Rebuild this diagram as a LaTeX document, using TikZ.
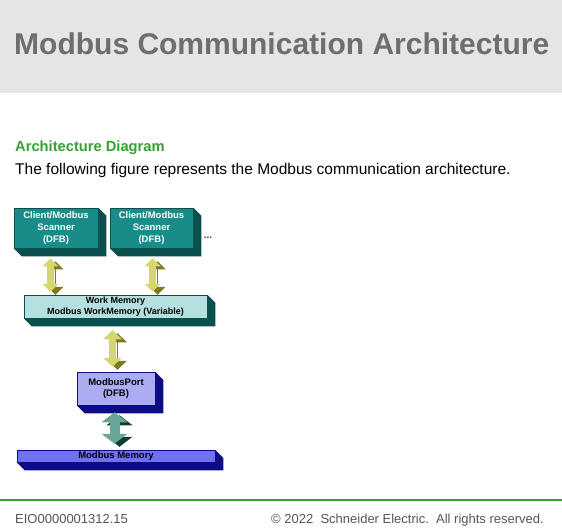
\documentclass[tikz,border=0pt]{standalone}
\usepackage{fontspec}
\setmainfont{Liberation Sans}
\usetikzlibrary{arrows.meta}
\definecolor{headgray}{RGB}{229,229,229}
\definecolor{titlegray}{RGB}{110,110,110}
\definecolor{segreen}{RGB}{52,160,48}
\definecolor{footgray}{RGB}{85,85,85}
\definecolor{tealF}{RGB}{24,140,136}
\definecolor{tealS}{RGB}{10,80,78}
\definecolor{cyanF}{RGB}{180,224,224}
\definecolor{lavF}{RGB}{172,172,242}
\definecolor{navyS}{RGB}{12,12,135}
\definecolor{blueF}{RGB}{112,112,240}
\definecolor{yelF}{RGB}{214,214,112}
\definecolor{yelS}{RGB}{122,122,32}
\definecolor{grnF}{RGB}{104,166,156}
\definecolor{grnS}{RGB}{16,60,50}
\tikzset{blk/.style 2 args={rectangle,fill=#1,draw=#2,line width=0.5pt,inner sep=0pt,align=center,font=\bfseries\fontsize{9.5}{12}\selectfont}}
\tikzset{dbl/.style 2 args={draw=#1,line width=7pt,arrows={Triangle[width=16pt,length=8pt,line width=0pt]-Triangle[width=16pt,length=8pt,line width=0pt]},preaction={draw=#2,transform canvas={shift={(5pt,-3pt)}}}}}
\newcommand{\extrude}[2]{\fill[#2] (#1.north east) -- ++(8pt,-8pt) |- ([shift={(8pt,-8pt)}]#1.south west) -- (#1.south west) -- (#1.south east) -- cycle;}

\begin{document}
\begin{tikzpicture}[x=1pt,y=-1pt]
    \useasboundingbox (0,0) rectangle (562,532);
    \fill[headgray] (0,0) rectangle (562,93);
    \node[anchor=base west,inner sep=0pt,text=titlegray,font=\bfseries\fontsize{30}{36}\selectfont] (title) at (14,55) {Modbus Communication Architecture};
    \node[anchor=base west,inner sep=0pt,text=segreen,font=\bfseries\fontsize{14.7}{18}\selectfont] (head) at (15,151) {Architecture Diagram};
    \node[anchor=base west,inner sep=0pt,font=\fontsize{15.5}{18}\selectfont] (intro) at (15,174) {The following figure represents the Modbus communication architecture.};

    \node[blk={tealF}{tealS},text=white,minimum width=84pt,minimum height=40pt] (c1) at (56,228) {Client/Modbus\\Scanner\\(DFB)};
    \node[blk={tealF}{tealS},text=white,minimum width=83pt,minimum height=40pt] (c2) at (151.5,228) {Client/Modbus\\Scanner\\(DFB)};
    \node[inner sep=0pt,text=black!75,font=\bfseries\fontsize{10}{10}\selectfont] (more) at (208,238) {...};
    \node[blk={cyanF}{tealS},font=\bfseries\fontsize{9}{10.5}\selectfont,minimum width=183pt,minimum height=23pt] (wm) at (115.5,306.5) {Work Memory\\Modbus WorkMemory (Variable)};
    \node[blk={lavF}{navyS},font=\bfseries\fontsize{9.5}{11}\selectfont,minimum width=78pt,minimum height=33pt] (mp) at (116,388.5) {ModbusPort\\(DFB)};
    \node[blk={blueF}{navyS},minimum width=198pt,minimum height=12pt] (mm) at (116,456) {Modbus Memory};
    \extrude{c1}{tealS}
    \extrude{c2}{tealS}
    \extrude{wm}{tealS}
    \extrude{mp}{navyS}
    \extrude{mm}{navyS}

    \draw[dbl={yelF}{yelS}] ([xshift=-5.5pt,yshift=-10pt]c1.south) -- ([xshift=-65pt,yshift=3pt]wm.north);
    \draw[dbl={yelF}{yelS}] ([xshift=1pt,yshift=-10pt]c2.south) -- ([xshift=37pt,yshift=3pt]wm.north);
    \draw[dbl={yelF}{yelS},arrows={Triangle[width=19pt,length=9pt,line width=0pt]-Triangle[width=19pt,length=9pt,line width=0pt]}] ([xshift=-3pt,yshift=-12pt]wm.south) -- ([xshift=-3.5pt,yshift=5pt]mp.north);
    \draw[dbl={grnF}{grnS},line width=10pt,arrows={Triangle[width=26pt,length=10pt,line width=0pt]-Triangle[width=26pt,length=10pt,line width=0pt]}] ([xshift=-1.5pt,yshift=-7pt]mp.south) -- ([xshift=-1.5pt,yshift=6pt]mm.north);

    \draw[segreen,line width=1.2pt] (0,500) -- (562,500);
    \node[anchor=base west,inner sep=0pt,text=footgray,font=\fontsize{13}{15}\selectfont] (docid) at (15,523.5) {EIO0000001312.15};
    \node[anchor=base east,inner sep=0pt,text=footgray,font=\fontsize{13}{15}\selectfont] (copy) at (544,523.5) {\textcopyright\ 2022\ \ Schneider Electric.\ \ All rights reserved.};
\end{tikzpicture}
\end{document}
